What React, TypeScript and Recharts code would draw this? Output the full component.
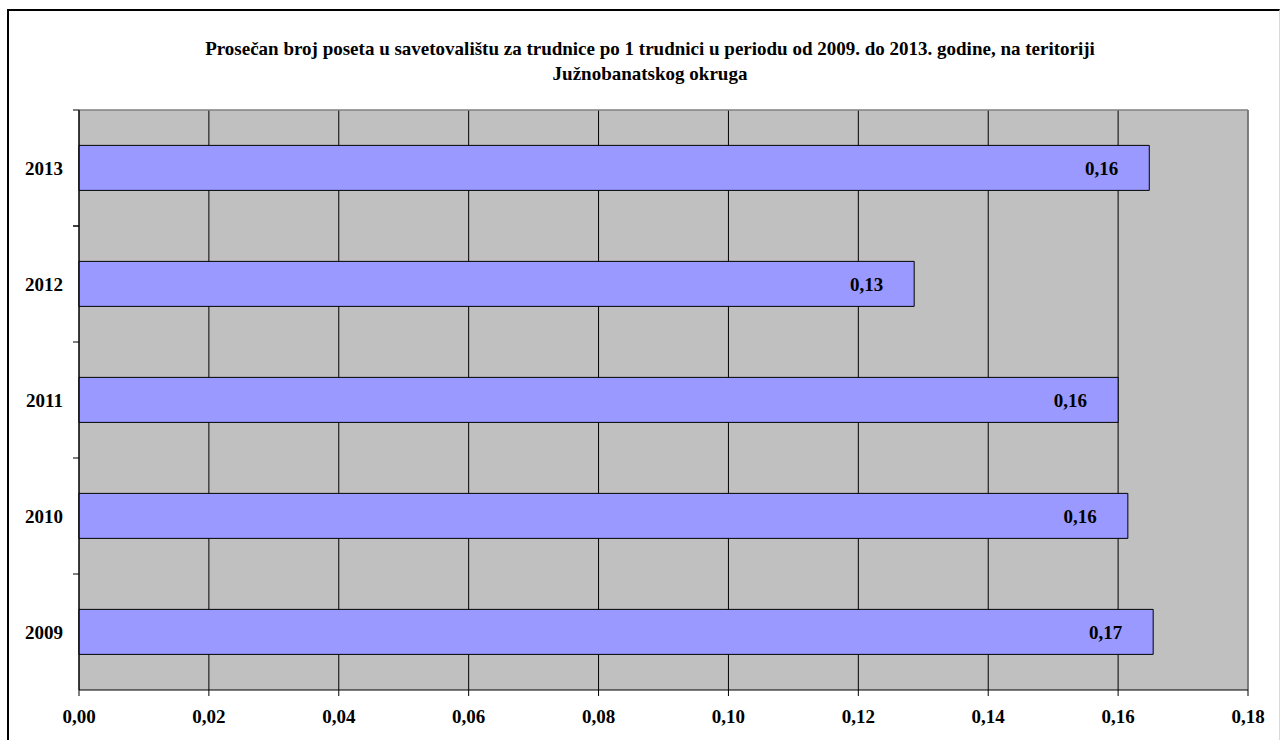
import React from 'react';
import {
  BarChart, Bar, XAxis, YAxis, CartesianGrid, LabelList,
} from 'recharts';

// ── Data ──────────────────────────────────────────────────────────────────────

const years = ['2009', '2010', '2011', '2012', '2013'];
const visits = [0.1654, 0.1615, 0.16, 0.1286, 0.1648];
const xTicks = [0, 0.02, 0.04, 0.06, 0.08, 0.1, 0.12, 0.14, 0.16, 0.18];

const titleLines = [
  'Prosečan broj poseta u savetovalištu za trudnice po 1 trudnici u periodu od 2009. do 2013. godine, na teritoriji',
  'Južnobanatskog okruga',
];

const data = years.map((y, i) => ({ year: y, value: visits[i] }));

// ── Layout ────────────────────────────────────────────────────────────────────

const FONT = '"Liberation Serif", "Times New Roman", serif';
const CHART_W = 1270;
const CHART_H = 725;
const MARGIN = { top: 99, right: 31, bottom: 6, left: 0 };
const Y_AXIS_W = 70;
const X_AXIS_H = 40;
const PLOT_H = CHART_H - MARGIN.top - MARGIN.bottom - X_AXIS_H;
const BAND = PLOT_H / years.length;
const TICK_SIZE = 6;
const TICK_MARGIN = 10;

const fmt = (v: number) => v.toFixed(2).replace('.', ',');

// Year label plus the small tick marks between categories
const YearTick = (props: any) => {
  const { x, y, payload, index, visibleTicksCount } = props;
  const axisX = x + TICK_SIZE + TICK_MARGIN;
  const last = index === visibleTicksCount - 1;
  return (
    <g>
      <line x1={axisX - TICK_SIZE} x2={axisX} y1={y - BAND / 2} y2={y - BAND / 2} stroke="#000" />
      {last && (
        <line x1={axisX - TICK_SIZE} x2={axisX} y1={y + BAND / 2} y2={y + BAND / 2} stroke="#000" />
      )}
      <text
        x={x}
        y={y}
        dy="0.35em"
        textAnchor="end"
        fontFamily={FONT}
        fontWeight="bold"
        fontSize={19}
        fill="#000"
      >
        {payload.value}
      </text>
    </g>
  );
};

export default function App() {
  return (
    <>
      <style>{'html,body{overflow:hidden}'}</style>
      <div
        style={{
          position: 'absolute',
          left: 7,
          top: 9,
          width: CHART_W,
          height: 740,
          borderTop: '2px solid #000',
          borderLeft: '2px solid #000',
          borderRight: '1px solid #d9d9d9',
          background: '#fff',
          fontFamily: FONT,
        }}
      >
        <div
          style={{
            position: 'absolute',
            left: 6,
            top: 25,
            width: CHART_W,
            textAlign: 'center',
            fontWeight: 'bold',
            fontSize: 19,
            lineHeight: '25px',
            color: '#000',
          }}
        >
          {titleLines.map((t) => (
            <div key={t}>{t}</div>
          ))}
        </div>

        <BarChart
          width={CHART_W}
          height={CHART_H}
          data={data}
          layout="vertical"
          margin={MARGIN}
          barCategoryGap="30.5%"
        >
          <CartesianGrid
            fill="#c0c0c0"
            fillOpacity={1}
            stroke="#000"
            horizontal={false}
          />
          {/* plot area border: top and right edge */}
          <CartesianGrid
            stroke="#808080"
            strokeWidth={1.5}
            horizontalCoordinatesGenerator={({ offset }: any) => [offset.top]}
            verticalCoordinatesGenerator={({ offset }: any) => [offset.left + offset.width]}
          />
          <XAxis
            type="number"
            domain={[0, 0.18]}
            ticks={xTicks}
            tickFormatter={fmt}
            height={X_AXIS_H}
            axisLine={{ stroke: '#000' }}
            tickLine={{ stroke: '#000' }}
            tickSize={TICK_SIZE}
            tickMargin={14}
            tick={{ fontFamily: FONT, fontWeight: 'bold', fontSize: 19, fill: '#000' }}
            interval={0}
          />
          <YAxis
            type="category"
            dataKey="year"
            reversed
            width={Y_AXIS_W}
            axisLine={{ stroke: '#000' }}
            tickLine={{ stroke: 'none' }}
            tickSize={TICK_SIZE}
            tickMargin={TICK_MARGIN}
            tick={<YearTick />}
            interval={0}
          />
          <Bar
            dataKey="value"
            fill="#9999ff"
            stroke="#000"
            strokeWidth={1}
            isAnimationActive={false}
          >
            <LabelList
              dataKey="value"
              position="insideRight"
              offset={31}
              formatter={(v: any) => fmt(Number(v))}
              style={{ fontFamily: FONT, fontWeight: 'bold', fontSize: 19, fill: '#000' }}
            />
          </Bar>
        </BarChart>
      </div>
    </>
  );
}
